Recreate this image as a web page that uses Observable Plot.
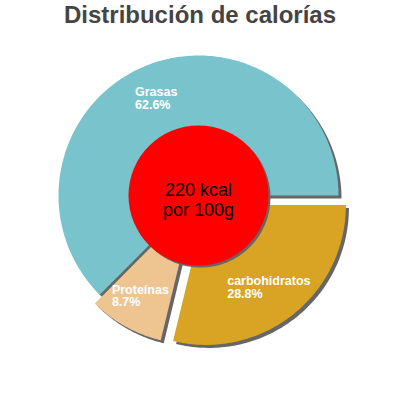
<!DOCTYPE html>
<html><head><meta charset="utf-8">
<script src="https://cdn.jsdelivr.net/npm/d3@7"></script>
<script src="https://cdn.jsdelivr.net/npm/@observablehq/plot@0.6"></script>
<style>
body{margin:0;background:#fff;font-family:"Liberation Sans",Arial,sans-serif;}
#title{height:32px;text-align:center;font-size:24px;font-weight:bold;color:#444;line-height:30px;padding-top:0;}
</style></head><body>
<div id="title">Distribución de calorías</div>
<div id="chart"></div>
<script>
// data (counter-clockwise from 3 o'clock)
const categories = ["Grasas", "Proteínas", "carbohidratos"];
const values = [62.6, 8.7, 28.8];
const percentLabels = ["62.6%", "8.7%", "28.8%"];
const colors = ["#79c4cc", "#eec591", "#d9a423"];
const centerLines = ["220 kcal", "por 100g"];

const R = 140, RL = 105, HOLE = 70, LFS = 12.5;
const explode = [0, 10, 12];
const total = d3.sum(values);
const ctx = document.createElement("canvas").getContext("2d");
ctx.font = `bold ${LFS}px 'Liberation Sans', Arial, sans-serif`;
let acc = 0;
const slices = values.map((v, i) => {
  const a0 = acc / total * 2 * Math.PI; acc += v;
  const a1 = acc / total * 2 * Math.PI;
  const mid = (a0 + a1) / 2;
  return {i, name: categories[i], pct: percentLabels[i], color: colors[i], a0, a1, mid,
    ox: explode[i] * Math.cos(mid), oy: -explode[i] * Math.sin(mid)};
});
const pts = [];
for (const s of slices) {
  pts.push({k: s.name, color: s.color, x: s.ox, y: s.oy});
  const n = Math.max(4, Math.ceil((s.a1 - s.a0) / (Math.PI / 180)));
  for (let j = 0; j <= n; j++) {
    const a = s.a0 + (s.a1 - s.a0) * j / n;
    pts.push({k: s.name, color: s.color, x: s.ox + R * Math.cos(a), y: s.oy - R * Math.sin(a)});
  }
}
const labels = slices.map(s => {
  const w = Math.max(ctx.measureText(s.name).width, ctx.measureText(s.pct).width);
  return {x: s.ox + RL * Math.cos(s.mid) - w / 2 - 2, y: s.oy - RL * Math.sin(s.mid), t: s.name + "\n" + s.pct};
});

const chart = Plot.plot({
  width: 400, height: 368, margin: 0,
  x: {domain: [-198, 202], range: [0, 400], axis: null},
  y: {domain: [-163, 205], range: [0, 368], axis: null},
  color: {type: "identity"},
  style: {fontFamily: "'Liberation Sans', Arial, sans-serif", background: "#fff"},
  marks: [
    Plot.line(pts, {x: "x", y: "y", z: "k", fill: "#666", stroke: null, curve: "linear-closed", dx: 3, dy: 3}),
    Plot.line(pts, {x: "x", y: "y", z: "k", fill: "color", stroke: null, curve: "linear-closed"}),
    Plot.dot([{x: 0, y: 0}], {x: "x", y: "y", r: HOLE, fill: "#666", dx: 2, dy: 2}),
    Plot.dot([{x: 0, y: 0}], {x: "x", y: "y", r: HOLE, fill: "#ff0000"}),
    Plot.text([{x: 0, y: 0, t: centerLines.join("\n")}], {x: "x", y: "y", text: "t", fontSize: 18, fill: "#000", lineHeight: 1.1, dy: 4, lineAnchor: "middle"}),
    Plot.text(labels, {x: "x", y: "y", text: "t", fontSize: LFS, fontWeight: "bold", fill: "#fff", lineHeight: 1, lineAnchor: "middle", textAnchor: "start"})
  ]
});
document.getElementById("chart").appendChild(chart);
</script>
</body></html>
